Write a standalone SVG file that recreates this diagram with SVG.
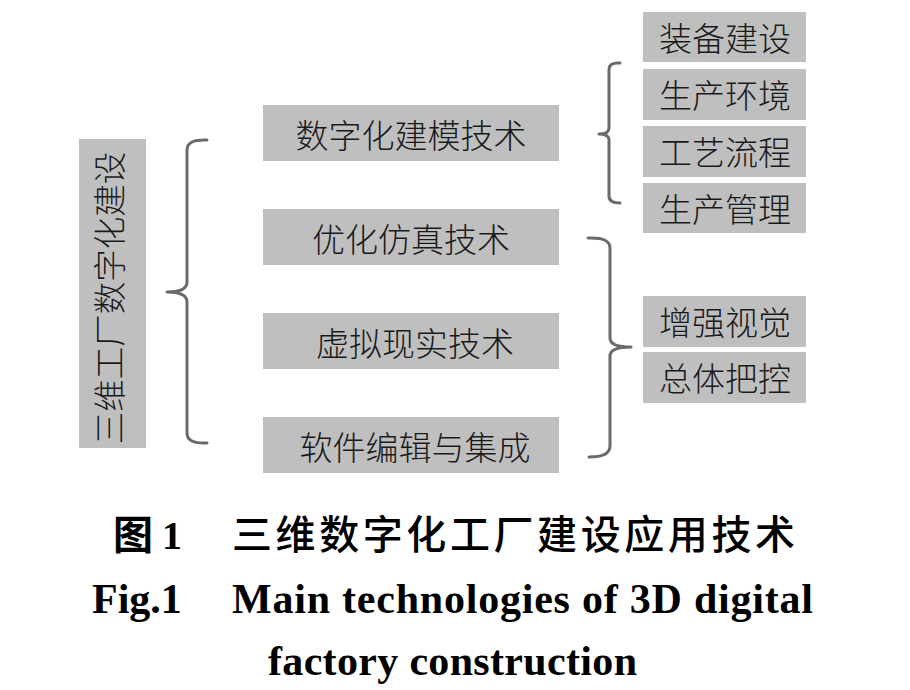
<svg xmlns="http://www.w3.org/2000/svg" width="910" height="690" viewBox="0 0 910 690">
<style>
.box{fill:#bfbfbf;}
.t{font-family:"Noto Sans CJK SC","Noto Sans",sans-serif;font-size:33px;font-weight:300;fill:#1a1a1a;text-anchor:middle;}
.br{fill:none;stroke:#6a6a6a;stroke-width:3;stroke-linecap:round;stroke-linejoin:round;}
.cap{font-family:"Noto Sans CJK SC",sans-serif;font-size:40px;font-weight:500;fill:#000;}
.en{font-family:"Liberation Serif","Times New Roman",serif;font-size:42px;font-weight:bold;fill:#000;}
</style>
<rect width="910" height="690" fill="#ffffff"/>
<g id="root">
<rect class="box" x="79" y="139" width="67" height="309"/>
<text class="t" style="font-size:32.5px" transform="translate(122,298) rotate(-90)" x="0" y="0">三维工厂数字化建设</text>
</g>
<g id="n-modeling">
<rect class="box" x="263" y="105" width="296" height="56"/>
<text class="t" x="411" y="147.5">数字化建模技术</text>
</g>
<g id="n-sim">
<rect class="box" x="263" y="209" width="296" height="56"/>
<text class="t" x="411" y="251.5">优化仿真技术</text>
</g>
<g id="n-vr">
<rect class="box" x="263" y="313" width="296" height="56"/>
<text class="t" x="415" y="355.5">虚拟现实技术</text>
</g>
<g id="n-soft">
<rect class="box" x="263" y="417" width="296" height="56"/>
<text class="t" x="415" y="459.5">软件编辑与集成</text>
</g>
<g id="n-equip">
<rect class="box" x="643" y="12" width="163" height="50"/>
<text class="t" x="725" y="51">装备建设</text>
</g>
<g id="n-env">
<rect class="box" x="643" y="69" width="163" height="51"/>
<text class="t" x="725" y="108">生产环境</text>
</g>
<g id="n-process">
<rect class="box" x="643" y="126" width="163" height="51"/>
<text class="t" x="725" y="165">工艺流程</text>
</g>
<g id="n-manage">
<rect class="box" x="643" y="183" width="163" height="50"/>
<text class="t" x="725" y="221.5">生产管理</text>
</g>
<g id="n-visual">
<rect class="box" x="643" y="296" width="163" height="51"/>
<text class="t" x="725" y="335">增强视觉</text>
</g>
<g id="n-control">
<rect class="box" x="643" y="352" width="163" height="51"/>
<text class="t" x="725" y="391">总体把控</text>
</g>
<g id="connectors">
<path class="br" d="M207,140 Q187,139 187,150 L187,282 Q187,292 167,292 Q187,292 187,302 L187,433 Q187,444 207,443"/>
<path class="br" d="M620,63 Q609,62 609,70 L609,128 Q609,134 599,134 Q609,134 609,140 L609,196 Q609,203 620,203"/>
<path class="br" d="M588,238 Q610,237 610,248 L610,338 Q610,347 631,347 Q610,347 610,356 L610,446 Q610,457 589,457"/>
</g>
<g id="caption">
<text class="cap" x="113" y="549" style="font-weight:bold">图</text>
<text class="en" x="162" y="549" style="font-size:40px">1</text>
<text class="cap" x="232" y="549" textLength="563" lengthAdjust="spacing">三维数字化工厂建设应用技术</text>
<text class="en" x="92" y="613">Fig.1</text>
<text class="en" x="232" y="613" textLength="581" lengthAdjust="spacing">Main technologies of 3D digital</text>
<text class="en" x="268" y="675" textLength="369" lengthAdjust="spacing">factory construction</text>
</g>
</svg>
